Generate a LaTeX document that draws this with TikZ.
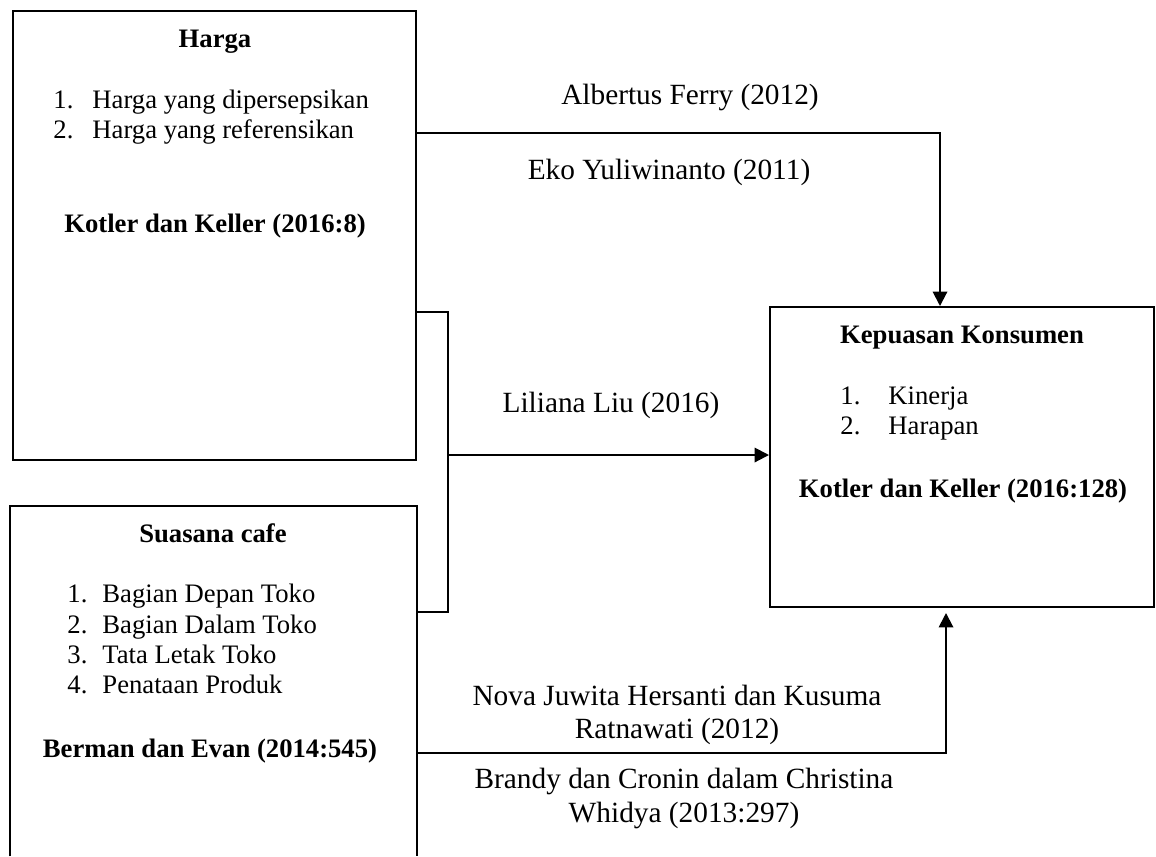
\documentclass[tikz,border=0pt]{standalone}
\usepackage{fontspec}
\setmainfont{Liberation Serif}
\usetikzlibrary{arrows.meta,fit,calc}
\begin{document}
\begin{tikzpicture}[x=0.45pt,y=-0.45pt,
  every node/.style={font=\fontsize{12pt}{14pt}\selectfont, inner sep=0pt},
  frame/.style={draw, line width=0.9pt, inner sep=0pt},
  conn/.style={line width=0.9pt},
  arr/.style={conn, -{Triangle[length=6.5pt,width=6.5pt]}},
  ttl/.style={anchor=base, font=\fontsize{12pt}{14pt}\selectfont\bfseries},
  itm/.style={anchor=base west},
  lbl/.style={anchor=base, font=\fontsize{13.2pt}{15pt}\selectfont}]
\useasboundingbox (0,0) rectangle (1156,856);
% boxes
\node[frame, fit={(13,11) (416,460)}] (harga) {};
\node[inner sep=0pt, fit={(10,506) (417,856)}] (suasana) {};
\draw[conn] (suasana.south west) -- (suasana.north west) -- (suasana.north east) -- (suasana.south east);
\node[frame, fit={(770,307) (1154,607)}] (kep) {};
% Harga text
\node[ttl] (hT) at (215,47) {Harga};
\node[itm] (hN1) at (53,108) {1.};
\node[itm] (hI1) at (92,108) {Harga yang dipersepsikan};
\node[itm] (hN2) at (53,138) {2.};
\node[itm] (hI2) at (92,138) {Harga yang referensikan};
\node[ttl] (hR) at (215,232) {Kotler dan Keller (2016:8)};
% Suasana text
\node[ttl] (sT) at (213,542) {Suasana cafe};
\node[itm] (sN1) at (67,602) {1.};
\node[itm] (sI1) at (102,602) {Bagian Depan Toko};
\node[itm] (sN2) at (67,633) {2.};
\node[itm] (sI2) at (102,633) {Bagian Dalam Toko};
\node[itm] (sN3) at (67,663) {3.};
\node[itm] (sI3) at (102,663) {Tata Letak Toko};
\node[itm] (sN4) at (67,693) {4.};
\node[itm] (sI4) at (102,693) {Penataan Produk};
\node[ttl] (sR) at (210,757) {Berman dan Evan (2014:545)};
% Kepuasan text
\node[ttl] (kT) at (962,343) {Kepuasan Konsumen};
\node[itm] (kN1) at (840,404) {1.};
\node[itm] (kI1) at (888,404) {Kinerja};
\node[itm] (kN2) at (840,434) {2.};
\node[itm] (kI2) at (888,434) {Harapan};
\node[ttl] (kR) at (963,497) {Kotler dan Keller (2016:128)};
% connectors
\draw[arr] (harga.east |- 0,133) -| (kep.north -| 940,0);
\draw[conn] (harga.east |- 0,312) -- (448,312) -- (448,612) -- (suasana.east |- 0,612);
\coordinate (junc) at (448,455);
\draw[arr] (junc) -- (kep.west |- junc);
\coordinate (up) at (946,613);
\draw[arr] (suasana.east |- 0,753) -| (up);
% labels
\node[lbl] (l1) at (690,104) {Albertus Ferry (2012)};
\node[lbl] (l2) at (669,179) {Eko Yuliwinanto (2011)};
\node[lbl] (l3) at (611,412) {Liliana Liu (2016)};
\node[lbl] (l4a) at (677,705) {Nova Juwita Hersanti dan Kusuma};
\node[lbl] (l4b) at (677,738) {Ratnawati (2012)};
\node[lbl] (l5a) at (684,788) {Brandy dan Cronin dalam Christina};
\node[lbl] (l5b) at (684,822) {Whidya (2013:297)};
\end{tikzpicture}
\end{document}
